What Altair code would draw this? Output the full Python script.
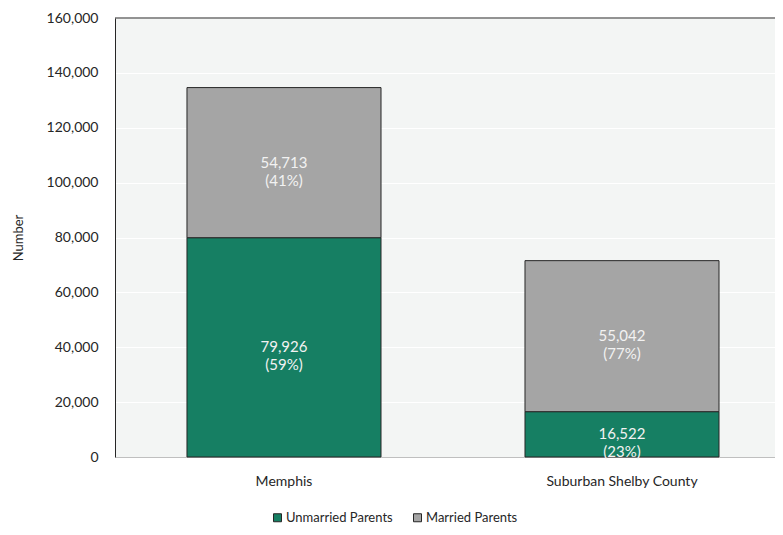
import altair as alt
import pandas as pd

categories = ["Memphis", "Suburban Shelby County"]
unmarried = [79926, 16522]
married = [54713, 55042]
series = ["Unmarried Parents", "Married Parents"]
y_ticks = [0, 20000, 40000, 60000, 80000, 100000, 120000, 140000, 160000]

rows = []
for c, u, m in zip(categories, unmarried, married):
    total = u + m
    start = 0
    for s, v in zip(series, [u, m]):
        pct = round(v / total * 100)
        rows.append({
            "cat": c, "series": s, "value": v,
            "y0": start, "y1": start + v, "mid": start + v / 2,
            "label": f"{v:,}\n({pct}%)",
            "order": series.index(s),
        })
        start += v
df = pd.DataFrame(rows)

FONT = "Lato"
W = 660

xscale = alt.Scale(domain=categories, paddingInner=0.426, paddingOuter=0.1893, align=0.5625)
yscale = alt.Scale(domain=[0, 160000], nice=False)

base = alt.Chart(df)

bars = base.mark_bar(stroke="#262626", strokeWidth=1).encode(
    x=alt.X("cat:N", scale=xscale, sort=categories,
            axis=alt.Axis(title=None, labelAngle=0, tickSize=0, labelPadding=17,
                          labelFontSize=14, labelColor="#262626", labelFont=FONT,
                          domainColor="#bfbfbf", domainWidth=1)),
    y=alt.Y("y0:Q", scale=yscale,
            axis=alt.Axis(title="Number", values=y_ticks, format=",d", tickSize=0,
                          labelPadding=17, labelFontSize=14, labelColor="#262626",
                          labelFont=FONT, gridColor="#ffffff", gridWidth=1.2,
                          domainColor="#262626", domainWidth=1,
                          titleFont=FONT, titleFontSize=13, titleFontWeight="normal",
                          titleColor="#262626", titleX=-97, titleY=219.5,
                          titleAngle=270, titleAlign="center", titleBaseline="middle")),
    y2="y1:Q",
    color=alt.Color("series:N", scale=alt.Scale(domain=series, range=["#167f63", "#a5a5a5"]),
                    legend=alt.Legend(title=None, orient="none", direction="horizontal",
                                      legendX=156, legendY=493, symbolType="square",
                                      symbolSize=64, symbolStrokeColor="#262626",
                                      symbolStrokeWidth=1, labelFont=FONT, labelFontSize=13,
                                      labelColor="#262626", labelOffset=2, columnPadding=18)),
)

texts = base.mark_text(color="#f2f2f2", fontSize=15, font=FONT, lineBreak="\n",
                       lineHeight=18, baseline="middle", align="center").encode(
    x=alt.X("cat:N", scale=xscale, sort=categories),
    y=alt.Y("mid:Q", scale=yscale),
    text="label:N",
)

top_line = alt.Chart(pd.DataFrame({"a": [0]})).mark_rule(color="#262626", strokeWidth=1).encode(
    x=alt.value(0), x2=alt.value(W), y=alt.value(0)
)

chart = alt.layer(bars, texts, top_line).properties(
    width=W, height=439,
    autosize=alt.AutoSizeParams(type="none"),
    padding={"left": 107, "top": 10, "right": 0, "bottom": 70},
).configure_view(fill="#f3f5f4", stroke=None)

chart.save("out.html", embed_options={"renderer": "svg", "actions": False})
